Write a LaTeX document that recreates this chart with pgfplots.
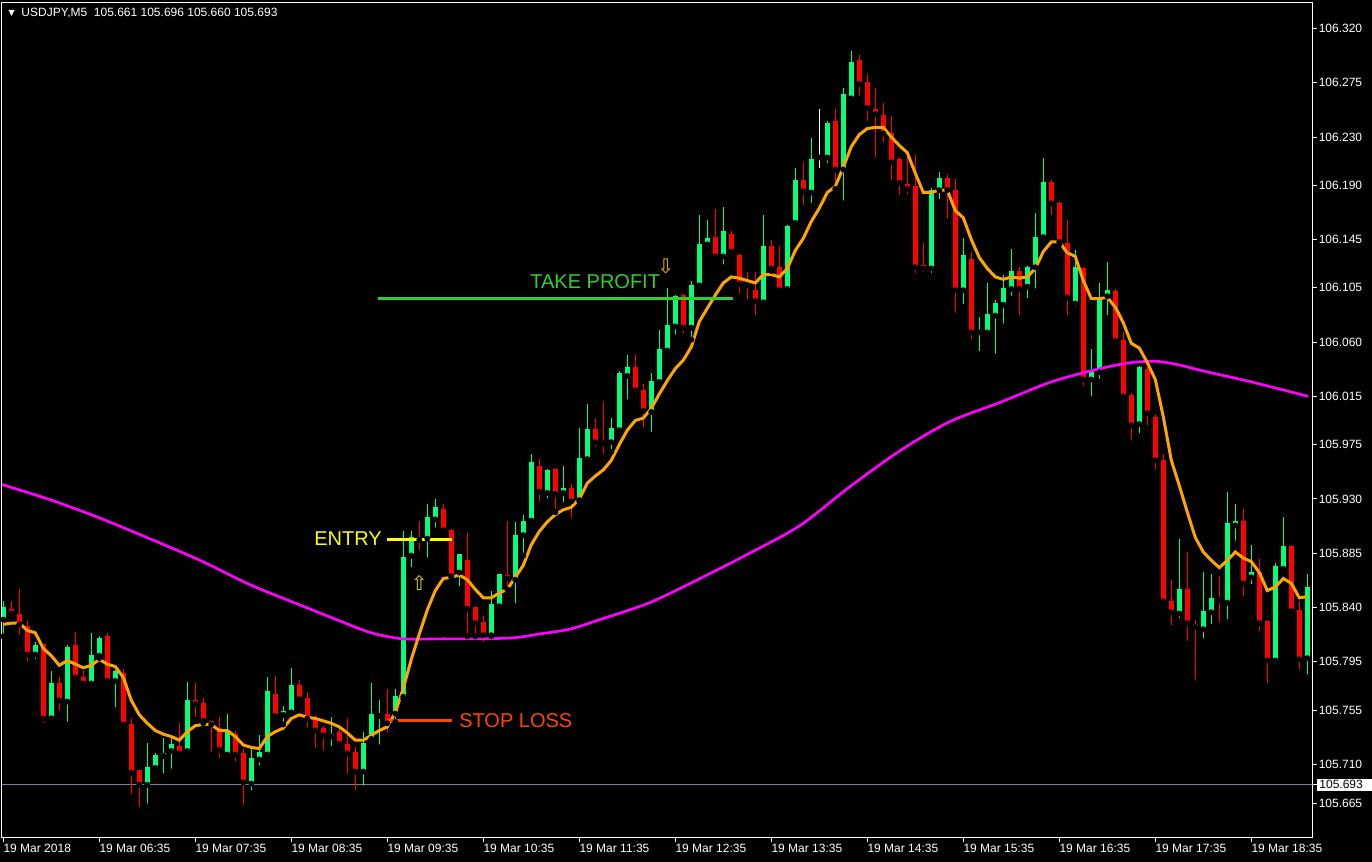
\documentclass[border=0pt]{standalone}
\usepackage{pgfplots}
\pgfplotsset{compat=1.18}
\usepackage{pgfplotstable}
\usepackage{fontspec}
\setmainfont{Liberation Sans}
\newfontfamily\djv{DejaVu Sans}
\definecolor{bullc}{RGB}{0,255,127}
\definecolor{bearc}{RGB}{255,0,0}
\definecolor{emac}{RGB}{255,165,0}
\definecolor{mac}{RGB}{255,0,255}
\definecolor{tpc}{RGB}{50,205,50}
\definecolor{slc}{RGB}{255,69,0}
\definecolor{pricec}{RGB}{119,136,153}
\definecolor{entc}{RGB}{255,255,0}

\pgfplotstableread{
k o h l c
0 105.830 105.845 105.816 105.840
4 105.801 105.811 105.795 105.809
6 105.748 105.787 105.748 105.777
8 105.762 105.809 105.743 105.807
11 105.777 105.819 105.774 105.801
12 105.800 105.816 105.798 105.815
14 105.779 105.788 105.755 105.787
18 105.693 105.728 105.675 105.708
19 105.707 105.719 105.703 105.718
20 105.717 105.732 105.700 105.719
21 105.721 105.734 105.704 105.727
23 105.721 105.778 105.719 105.763
28 105.718 105.752 105.714 105.737
31 105.694 105.723 105.686 105.715
32 105.714 105.734 105.707 105.720
33 105.718 105.782 105.718 105.771
35 105.751 105.758 105.743 105.754
36 105.753 105.790 105.752 105.776
41 105.733 105.749 105.723 105.735
45 105.704 105.737 105.690 105.728
46 105.731 105.777 105.726 105.752
47 105.750 105.763 105.724 105.752
49 105.752 105.772 105.745 105.767
50 105.766 105.903 105.764 105.882
51 105.883 105.903 105.871 105.898
53 105.897 105.926 105.879 105.915
54 105.913 105.930 105.904 105.923
57 105.869 105.884 105.855 105.884
61 105.817 105.854 105.816 105.843
62 105.841 105.868 105.839 105.868
64 105.863 105.911 105.841 105.900
65 105.900 105.917 105.883 105.912
66 105.912 105.967 105.911 105.961
68 105.935 105.955 105.928 105.954
70 105.935 105.957 105.925 105.939
72 105.929 105.989 105.928 105.964
73 105.963 106.009 105.962 105.988
76 105.977 105.997 105.969 105.989
77 105.987 106.036 105.986 106.034
78 106.032 106.049 106.010 106.039
81 106.002 106.034 105.983 106.028
82 106.027 106.070 106.026 106.054
83 106.053 106.105 106.052 106.074
84 106.073 106.099 106.064 106.098
86 106.072 106.111 106.062 106.107
87 106.107 106.165 106.106 106.141
88 106.141 106.161 106.140 106.146
90 106.131 106.172 106.122 106.152
95 106.093 106.165 106.092 106.140
98 106.104 106.157 106.103 106.156
99 106.159 106.204 106.154 106.194
101 106.184 106.229 106.173 106.212
103 106.213 106.243 106.206 106.242
105 106.203 106.271 106.175 106.266
106 106.262 106.301 106.261 106.292
116 106.121 106.188 106.115 106.186
117 106.186 106.201 106.176 106.196
120 106.103 106.146 106.089 106.132
122 106.068 106.081 106.050 106.070
123 106.068 106.109 106.067 106.083
124 106.082 106.095 106.048 106.092
125 106.091 106.116 106.073 106.105
126 106.104 106.137 106.096 106.119
128 106.106 106.123 106.094 106.122
129 106.122 106.167 106.102 106.147
130 106.147 106.213 106.146 106.193
134 106.092 106.136 106.087 106.122
136 106.029 106.054 106.013 106.037
137 106.035 106.109 106.027 106.095
138 106.098 106.126 106.080 106.103
142 105.992 106.040 105.982 106.039
147 105.835 105.897 105.829 105.855
150 105.822 105.869 105.812 105.837
151 105.836 105.868 105.824 105.848
153 105.844 105.936 105.828 105.910
154 105.908 105.926 105.893 105.912
156 105.865 105.892 105.857 105.869
159 105.796 105.877 105.793 105.874
160 105.872 105.915 105.869 105.891
163 105.798 105.868 105.782 105.857
}\bull

\pgfplotstableread{
k o h l c
1 105.839 105.845 105.835 105.835
2 105.835 105.855 105.815 105.826
3 105.825 105.829 105.793 105.801
5 105.810 105.810 105.742 105.748
7 105.777 105.782 105.752 105.763
9 105.809 105.820 105.780 105.782
10 105.782 105.788 105.776 105.777
13 105.816 105.819 105.777 105.779
15 105.786 105.789 105.743 105.743
16 105.743 105.748 105.683 105.703
17 105.705 105.705 105.672 105.693
22 105.725 105.744 105.715 105.719
24 105.763 105.777 105.747 105.760
25 105.761 105.765 105.744 105.746
26 105.746 105.746 105.718 105.743
27 105.740 105.749 105.713 105.722
29 105.735 105.738 105.710 105.718
30 105.719 105.723 105.674 105.695
34 105.768 105.783 105.747 105.750
37 105.776 105.780 105.762 105.764
38 105.765 105.770 105.738 105.748
39 105.748 105.751 105.721 105.738
40 105.740 105.742 105.719 105.734
42 105.737 105.740 105.723 105.727
43 105.727 105.748 105.700 105.719
44 105.720 105.724 105.686 105.704
48 105.752 105.772 105.734 105.744
52 105.897 105.912 105.885 105.896
55 105.922 105.926 105.903 105.904
56 105.904 105.905 105.865 105.866
58 105.879 105.902 105.816 105.839
59 105.840 105.840 105.816 105.827
60 105.828 105.833 105.809 105.817
63 105.867 105.912 105.855 105.864
67 105.957 105.963 105.926 105.936
69 105.955 105.956 105.919 105.934
71 105.939 105.942 105.912 105.928
74 105.988 105.997 105.971 105.977
75 105.978 106.010 105.965 105.976
79 106.039 106.049 106.015 106.020
80 106.020 106.025 105.987 106.003
85 106.099 106.100 106.065 106.072
89 106.147 106.170 106.130 106.131
91 106.150 106.152 106.131 106.135
92 106.132 106.133 106.098 106.108
93 106.109 106.118 106.093 106.107
94 106.103 106.118 106.080 106.094
96 106.140 106.145 106.119 106.121
97 106.122 106.140 106.101 106.103
100 106.194 106.209 106.171 106.185
104 106.243 106.253 106.187 106.203
107 106.294 106.298 106.262 106.274
108 106.276 106.282 106.241 106.254
109 106.253 106.271 106.211 106.249
110 106.248 106.258 106.223 106.233
111 106.233 106.247 106.192 106.209
112 106.212 106.213 106.180 106.192
113 106.191 106.215 106.180 106.187
114 106.189 106.215 106.115 106.122
115 106.124 106.142 106.116 106.121
118 106.196 106.199 106.160 106.186
119 106.186 106.195 106.082 106.103
121 106.129 106.135 106.060 106.068
127 106.119 106.122 106.080 106.104
131 106.193 106.194 106.163 106.175
132 106.175 106.176 106.141 106.143
133 106.142 106.161 106.080 106.097
135 106.121 106.122 106.021 106.029
139 106.102 106.104 106.060 106.061
140 106.062 106.068 106.010 106.015
141 106.016 106.018 105.976 105.991
143 106.038 106.039 105.989 106.001
144 105.998 106.000 105.952 105.962
145 105.962 105.967 105.843 105.845
146 105.845 105.863 105.823 105.836
148 105.855 105.886 105.810 105.827
149 105.826 105.830 105.777 105.824
152 105.848 105.866 105.825 105.846
155 105.912 105.922 105.847 105.860
157 105.869 105.880 105.818 105.827
158 105.829 105.830 105.775 105.796
161 105.891 105.892 105.833 105.837
162 105.838 105.845 105.786 105.797
}\bear

\pgfplotstableread{
k o h l c
102 106.213 106.253 106.202 106.213
}\doji

\begin{document}
\begin{tikzpicture}
\fill[black] (0,0) rectangle (1029pt,646.5pt);
\useasboundingbox (0,0) rectangle (1029pt,646.5pt);
\begin{axis}[
  at={(1.5pt,18pt)}, anchor=south west,
  scale only axis, width=982.875pt, height=626.25pt,
  xmin=-0.1625, xmax=163.65, ymin=105.6489, ymax=106.3411,
  axis background/.style={fill=black},
  axis line style={white, line width=0.75pt},
  tick style={white, line width=0.75pt},
  major tick length=3pt, tick align=outside,
  xtick pos=left, ytick pos=right, xticklabel pos=left, yticklabel pos=right,
  xtick={0,12,...,156},
  xticklabels={19 Mar 2018,19 Mar 06:35,19 Mar 07:35,19 Mar 08:35,19 Mar 09:35,19 Mar 10:35,19 Mar 11:35,19 Mar 12:35,19 Mar 13:35,19 Mar 14:35,19 Mar 15:35,19 Mar 16:35,19 Mar 17:35,19 Mar 18:35},
  ytick={105.6775,105.710,105.755,105.795,105.840,105.885,105.930,105.975,106.015,106.060,106.105,106.145,106.190,106.230,106.275,106.320},
  yticklabels={105.665,105.710,105.755,105.795,105.840,105.885,105.930,105.975,106.015,106.060,106.105,106.145,106.190,106.230,106.275,106.320},
  ticklabel style={white, font=\fontsize{9}{10.8}\selectfont, inner sep=0pt},
  xticklabel style={anchor=north west, yshift=-1.5pt},
  yticklabel style={anchor=west, xshift=1.5pt},
  extra y ticks={105.693}, extra y tick labels={105.693},
  extra y tick style={yticklabel style={fill=white, text=black, inner xsep=1.5pt, inner ysep=1.5pt, minimum width=42pt, text width=38pt, xshift=-1.5pt}},
]
% current price line
\addplot[pricec, line width=0.75pt, forget plot] coordinates {(-1,105.693) (170,105.693)};
% bull candles
\addplot[only marks, mark=none, forget plot, error bars/.cd, y dir=plus, y explicit, error mark=none,
  error bar style={draw=bullc, line width=0.75pt}]
  table[x=k, y=l, y error plus expr={\thisrow{h}-\thisrow{l}}] {\bull};
\addplot[only marks, mark=none, forget plot, error bars/.cd, y dir=plus, y explicit, error mark=none,
  error bar style={draw=bullc, line width=3.75pt}]
  table[x=k, y=o, y error plus expr={max(\thisrow{c}-\thisrow{o},0.0009)}] {\bull};
% bear candles
\addplot[only marks, mark=none, forget plot, error bars/.cd, y dir=plus, y explicit, error mark=none,
  error bar style={draw=bearc, line width=0.75pt}]
  table[x=k, y=l, y error plus expr={\thisrow{h}-\thisrow{l}}] {\bear};
\addplot[only marks, mark=none, forget plot, error bars/.cd, y dir=plus, y explicit, error mark=none,
  error bar style={draw=bearc, line width=3.75pt}]
  table[x=k, y=c, y error plus expr={max(\thisrow{o}-\thisrow{c},0.0009)}] {\bear};
% doji
\addplot[only marks, mark=none, forget plot, error bars/.cd, y dir=plus, y explicit, error mark=none,
  error bar style={draw=white, line width=0.75pt}]
  table[x=k, y=l, y error plus expr={\thisrow{h}-\thisrow{l}}] {\doji};
\addplot[only marks, mark=none, forget plot, error bars/.cd, y dir=plus, y explicit, error mark=none,
  error bar style={draw=white, line width=3.75pt}]
  table[x=k, y=o, y error plus expr={0.0009}] {\doji};
% slow MA (magenta)
\addplot[mac, line width=2pt, mark=none, smooth] coordinates {
(-0.2,105.942)(6,105.929)(12.1,105.914)(18.3,105.897)(24.6,105.879)(30.8,105.859)(37.1,105.842)(42,105.829)(46,105.819)(50,105.814)(55,105.814)(60,105.814)(64,105.815)(67,105.818)(70.8,105.822)(74.6,105.830)(80.8,105.844)(87.1,105.864)(93.3,105.885)(99.6,105.908)(105.8,105.940)(112.1,105.970)(118.3,105.994)(124.6,106.010)(131,106.027)(137.1,106.038)(141,106.043)(144.2,106.044)(147,106.041)(150,106.036)(156,106.027)(163.1,106.015)};
% fast MA (orange)
\addplot[emac, line width=2.25pt, mark=none] coordinates {
(0,105.826)(1,105.827)(2,105.827)(3,105.821)(4,105.819)(5,105.806)(6,105.800)(7,105.792)(8,105.796)(9,105.793)(10,105.790)(11,105.792)(12,105.797)(13,105.793)(14,105.791)(15,105.782)(16,105.763)(17,105.751)(18,105.744)(19,105.738)(20,105.735)(21,105.733)(22,105.730)(23,105.737)(24,105.742)(25,105.743)(26,105.743)(27,105.738)(28,105.738)(29,105.733)(30,105.726)(31,105.724)(32,105.723)(33,105.733)(34,105.737)(35,105.740)(36,105.748)(37,105.751)(38,105.749)(39,105.748)(40,105.746)(41,105.744)(42,105.741)(43,105.736)(44,105.730)(45,105.730)(46,105.734)(47,105.738)(48,105.741)(49,105.753)(50,105.773)(51,105.797)(52,105.818)(53,105.838)(54,105.854)(55,105.864)(56,105.865)(57,105.867)(58,105.863)(59,105.855)(60,105.848)(61,105.848)(62,105.852)(63,105.855)(64,105.865)(65,105.875)(66,105.892)(67,105.903)(68,105.911)(69,105.917)(70,105.921)(71,105.923)(72,105.930)(73,105.943)(74,105.949)(75,105.954)(76,105.962)(77,105.975)(78,105.987)(79,105.995)(80,105.997)(81,106.005)(82,106.017)(83,106.028)(84,106.038)(85,106.045)(86,106.056)(87,106.077)(88,106.088)(89,106.099)(90,106.109)(91,106.114)(92,106.113)(93,106.111)(94,106.109)(95,106.116)(96,106.116)(97,106.114)(98,106.121)(99,106.136)(100,106.146)(101,106.160)(102,106.171)(103,106.184)(104,106.189)(105,106.205)(106,106.222)(107,106.232)(108,106.237)(109,106.238)(110,106.238)(111,106.230)(112,106.223)(113,106.217)(114,106.200)(115,106.184)(116,106.184)(117,106.186)(118,106.186)(119,106.169)(120,106.163)(121,106.145)(122,106.130)(123,106.121)(124,106.114)(125,106.112)(126,106.114)(127,106.113)(128,106.114)(129,106.121)(130,106.135)(131,106.143)(132,106.143)(133,106.134)(134,106.131)(135,106.111)(136,106.096)(137,106.096)(138,106.097)(139,106.089)(140,106.076)(141,106.059)(142,106.055)(143,106.043)(144,106.029)(145,105.998)(146,105.962)(147,105.941)(148,105.919)(149,105.898)(150,105.886)(151,105.879)(152,105.873)(153,105.879)(154,105.886)(155,105.881)(156,105.878)(157,105.869)(158,105.854)(159,105.857)(160,105.864)(161,105.860)(162,105.848)(163,105.849)};
% annotation lines
\addplot[tpc, line width=2.25pt] coordinates {(46.84,106.096) (91.2,106.096)};
\addplot[entc, line width=2.25pt] coordinates {(47.9,105.896) (56.05,105.896)};
\addplot[slc, line width=2.25pt] coordinates {(47.9,105.746) (56.05,105.746)};
\node[anchor=west, inner sep=0pt, text=tpc, font=\fontsize{15}{15}\selectfont] at (axis cs:65.85,106.110) {TAKE PROFIT};
\node[anchor=west, inner sep=0pt, text=entc, font=\fontsize{15}{15}\selectfont] at (axis cs:38.84,105.897) {ENTRY};
\node[anchor=west, inner sep=0pt, text=slc, font=\fontsize{15}{15}\selectfont] at (axis cs:56.96,105.746) {STOP LOSS};
\node[inner sep=0pt, text={rgb,255:red,210;green,210;blue,0}, font=\djv\fontsize{15}{15}\selectfont] at (axis cs:52,105.860) {⇧};
\node[inner sep=0pt, text={rgb,255:red,230;green,180;blue,0}, font=\djv\fontsize{15}{15}\selectfont] at (axis cs:82.8,106.123) {⇩};
\end{axis}
\node[anchor=west, inner sep=0pt, text=white, font=\fontsize{9}{10}\selectfont] at (4.5pt,636.75pt) {{\fontsize{8}{8}\selectfont ▼}\hspace{3.5pt}USDJPY,M5\hspace{5pt}105.661 105.696 105.660 105.693};
\end{tikzpicture}
\end{document}
